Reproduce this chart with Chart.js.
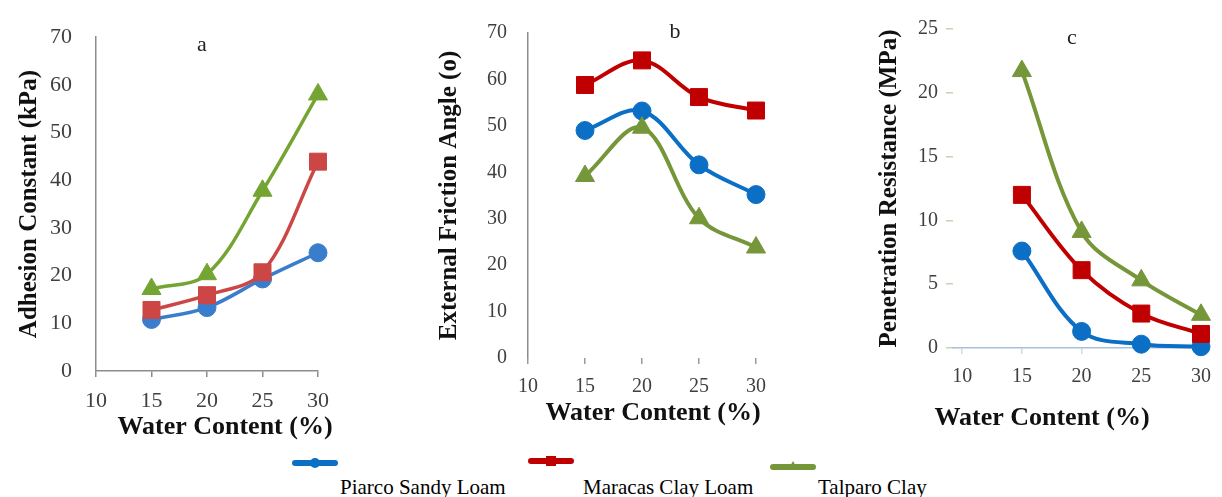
<!DOCTYPE html>
<html>
<head>
<meta charset="utf-8">
<script src="https://cdn.jsdelivr.net/npm/chart.js@4"></script>
<style>
    body { margin: 0; background: #fff; width: 1222px; height: 497px; position: relative; overflow: hidden; font-family: 'Liberation Serif', 'Times New Roman', serif; }
    canvas { position: absolute; top: 0; }
    .legLine { position: absolute; height: 6px; border-radius: 3px; }
    .legMark { position: absolute; }
    .legText { position: absolute; font-size: 21px; color: #000; white-space: nowrap; line-height: 24px; }
</style>
</head>
<body>
<canvas id="chartA" width="345" height="445" style="left:0px"></canvas>
<canvas id="chartB" width="395" height="430" style="left:400px"></canvas>
<canvas id="chartC" width="360" height="440" style="left:862px"></canvas>
<div id="legend"></div>
<script>
// Daten
const waterContent = [15, 20, 25, 30];
const xTicks = [10, 15, 20, 25, 30];
const seriesNames = ['Piarco Sandy Loam', 'Maracas Clay Loam', 'Talparo Clay'];

// a: Adhesion Constant (kPa)
const adhesionPiarco = [10.8, 13.3, 19.3, 24.8];
const adhesionMaracas = [12.8, 15.9, 20.7, 43.9];
const adhesionTalparo = [17.2, 20.3, 37.8, 58.0];
const yTicksA = [0, 10, 20, 30, 40, 50, 60, 70];

// b: External Friction Angle
const frictionPiarco = [49.0, 53.2, 41.6, 35.2];
const frictionMaracas = [58.8, 64.1, 56.2, 53.3];
const frictionTalparo = [39.2, 49.6, 30.1, 23.8];
const yTicksB = [0, 10, 20, 30, 40, 50, 60, 70];

// c: Penetration Resistance (MPa)
const penetrationPiarco = [7.6, 1.3, 0.3, 0.1];
const penetrationMaracas = [12.0, 6.1, 2.7, 1.1];
const penetrationTalparo = [21.7, 9.1, 5.3, 2.6];
const yTicksC = [0, 5, 10, 15, 20, 25];

const serif = "'Liberation Serif', 'Times New Roman', serif";
const pointStyles = ['circle', 'rect', 'triangle'];
const pointRadii = [9, 12, 11];
const colorsA = ['#3a7dcc', '#cc4646', '#74a532'];
const colorsBC = ['#0b6fc6', '#c00000', '#76963a'];

// Texte (Panelbuchstabe und x-Achsentitel) direkt auf die Leinwand
const panelText = {
    id: 'panelText',
    afterDraw(chart, args, opts)
    {
        const ctx = chart.ctx;
        ctx.save();
        ctx.textAlign = 'center';
        ctx.textBaseline = 'middle';
        opts.items.forEach(t =>
        {
            ctx.font = t.font;
            ctx.fillStyle = t.color;
            ctx.fillText(t.text, t.x, t.y);
        });
        ctx.restore();
    }
};

function buildDatasets(values, colors, lineWidth)
{
    return values.map((vals, i) => ({
        label: seriesNames[i],
        data: waterContent.map((x, j) => ({ x: x, y: vals[j] })),
        borderColor: colors[i],
        backgroundColor: colors[i],
        borderWidth: lineWidth,
        pointStyle: pointStyles[i],
        pointRadius: pointRadii[i],
        pointBorderWidth: 1,
        pointBorderColor: colors[i],
        pointBackgroundColor: colors[i],
        tension: 0.35,
        clip: false,
        order: 3 - i,
    }));
}

function createPanel(canvasId, p)
{
    const ctx = document.getElementById(canvasId).getContext('2d');
    return new Chart(ctx, {
        type: 'line',
        data: { datasets: buildDatasets(p.values, p.colors, p.lineWidth) },
        plugins: [panelText],
        options: {
            responsive: false,
            animation: false,
            events: [],
            layout: { padding: { left: 0, top: p.top, right: p.right, bottom: 0 } },
            scales: {
                x: {
                    type: 'linear',
                    min: p.xMin,
                    max: 30,
                    afterBuildTicks: s => { s.ticks = xTicks.map(v => ({ value: v })); },
                    afterFit: s => { s.height = p.xHeight; },
                    border: { display: p.xBorder !== null, color: p.xBorder || '#000', width: 1.5 },
                    grid: { display: true, drawOnChartArea: false, drawTicks: true, tickLength: 6, color: p.xTickColor, lineWidth: 1.5 },
                    ticks: { autoSkip: false, maxRotation: 0, padding: 11, color: '#404040', font: { family: serif, size: p.tickSize } },
                    title: { display: false },
                },
                y: {
                    min: 0,
                    max: p.yTicks[p.yTicks.length - 1],
                    afterBuildTicks: s => { s.ticks = p.yTicks.map(v => ({ value: v })); },
                    afterFit: s => { s.width = p.yWidth; },
                    border: { display: p.yBorder !== null, color: p.yBorder || '#000', width: 1.5 },
                    grid: { display: p.yTickLen > 0, drawOnChartArea: false, drawTicks: p.yTickLen > 0, tickLength: p.yTickLen, color: '#c4d3b4', lineWidth: 1.5 },
                    ticks: { padding: p.yPad, color: '#404040', font: { family: serif, size: p.tickSize } },
                    title: {
                        display: true,
                        text: p.yTitle,
                        color: '#111',
                        font: { family: serif, size: 25, weight: 'bold' },
                        padding: { top: p.yTitlePad, bottom: 0 },
                    },
                },
            },
            plugins: {
                legend: { display: false },
                tooltip: { enabled: false },
                panelText: {
                    items: [
                        { text: p.letter, x: p.letterX, y: p.letterY, font: '22px ' + serif, color: '#222' },
                        { text: 'Water Content (%)', x: p.xTitleX, y: p.xTitleY, font: 'bold 26px ' + serif, color: '#111' },
                    ]
                },
            },
        },
    });
}

createPanel('chartA', {
    values: [adhesionPiarco, adhesionMaracas, adhesionTalparo],
    colors: colorsA, lineWidth: 3.5,
    top: 22, right: 27, xHeight: 74, yWidth: 96, xMin: 10,
    xBorder: '#8c8c8c', xTickColor: '#8c8c8c', yBorder: '#8c8c8c', yTickLen: 0, yPad: 24,
    tickSize: 22, yTicks: yTicksA, yTitle: 'Adhesion Constant (kPa)', yTitlePad: 15,
    letter: 'a', letterX: 202, letterY: 45, xTitleX: 225, xTitleY: 427,
});

createPanel('chartB', {
    values: [frictionPiarco, frictionMaracas, frictionTalparo],
    colors: colorsBC, lineWidth: 4,
    top: 24, right: 39, xHeight: 72, yWidth: 128, xMin: 10,
    xBorder: null, xTickColor: '#9a9a9a', yBorder: '#8c8c8c', yTickLen: 0, yPad: 21,
    tickSize: 20, yTicks: yTicksB, yTitle: 'External Friction Angle (o)', yTitlePad: 35,
    letter: 'b', letterX: 275, letterY: 32, xTitleX: 253, xTitleY: 413,
});

createPanel('chartC', {
    values: [penetrationPiarco, penetrationMaracas, penetrationTalparo],
    colors: colorsBC, lineWidth: 4,
    top: 29, right: 17, xHeight: 92, yWidth: 91, xMin: 9.23,
    xBorder: '#a8c0d8', xTickColor: '#d3ddc6', yBorder: null, yTickLen: 7, yPad: 8,
    tickSize: 20, yTicks: yTicksC, yTitle: 'Penetration Resistance (MPa)', yTitlePad: 13,
    letter: 'c', letterX: 210, letterY: 38, xTitleX: 180, xTitleY: 418,
});

// Legende unten (HTML), aus den Serien aufgebaut
const legendPos = [
    { lineX: 292, lineY: 460, textX: 340 },
    { lineX: 528, lineY: 458, textX: 583 },
    { lineX: 770, lineY: 464, textX: 818 },
];
const legendDiv = document.getElementById('legend');
seriesNames.forEach((name, i) =>
{
    const pos = legendPos[i];
    const color = colorsBC[i];

    const line = document.createElement('div');
    line.className = 'legLine';
    line.style.left = pos.lineX + 'px';
    line.style.top = pos.lineY + 'px';
    line.style.width = '46px';
    line.style.background = color;
    legendDiv.appendChild(line);

    const mark = document.createElement('div');
    mark.className = 'legMark';
    if (pointStyles[i] === 'triangle')
    {
        mark.style.left = (pos.lineX + 18) + 'px';
        mark.style.top = (pos.lineY - 3) + 'px';
        mark.style.borderLeft = '5px solid transparent';
        mark.style.borderRight = '5px solid transparent';
        mark.style.borderBottom = '9px solid ' + color;
    }
    else
    {
        mark.style.left = (pos.lineX + 18) + 'px';
        mark.style.top = (pos.lineY - 2) + 'px';
        mark.style.width = '10px';
        mark.style.height = '10px';
        mark.style.background = color;
        mark.style.borderRadius = pointStyles[i] === 'circle' ? '50%' : '0';
    }
    legendDiv.appendChild(mark);

    const label = document.createElement('div');
    label.className = 'legText';
    label.style.left = pos.textX + 'px';
    label.style.top = '475px';
    label.innerText = name;
    legendDiv.appendChild(label);
});
</script>
</body>
</html>
